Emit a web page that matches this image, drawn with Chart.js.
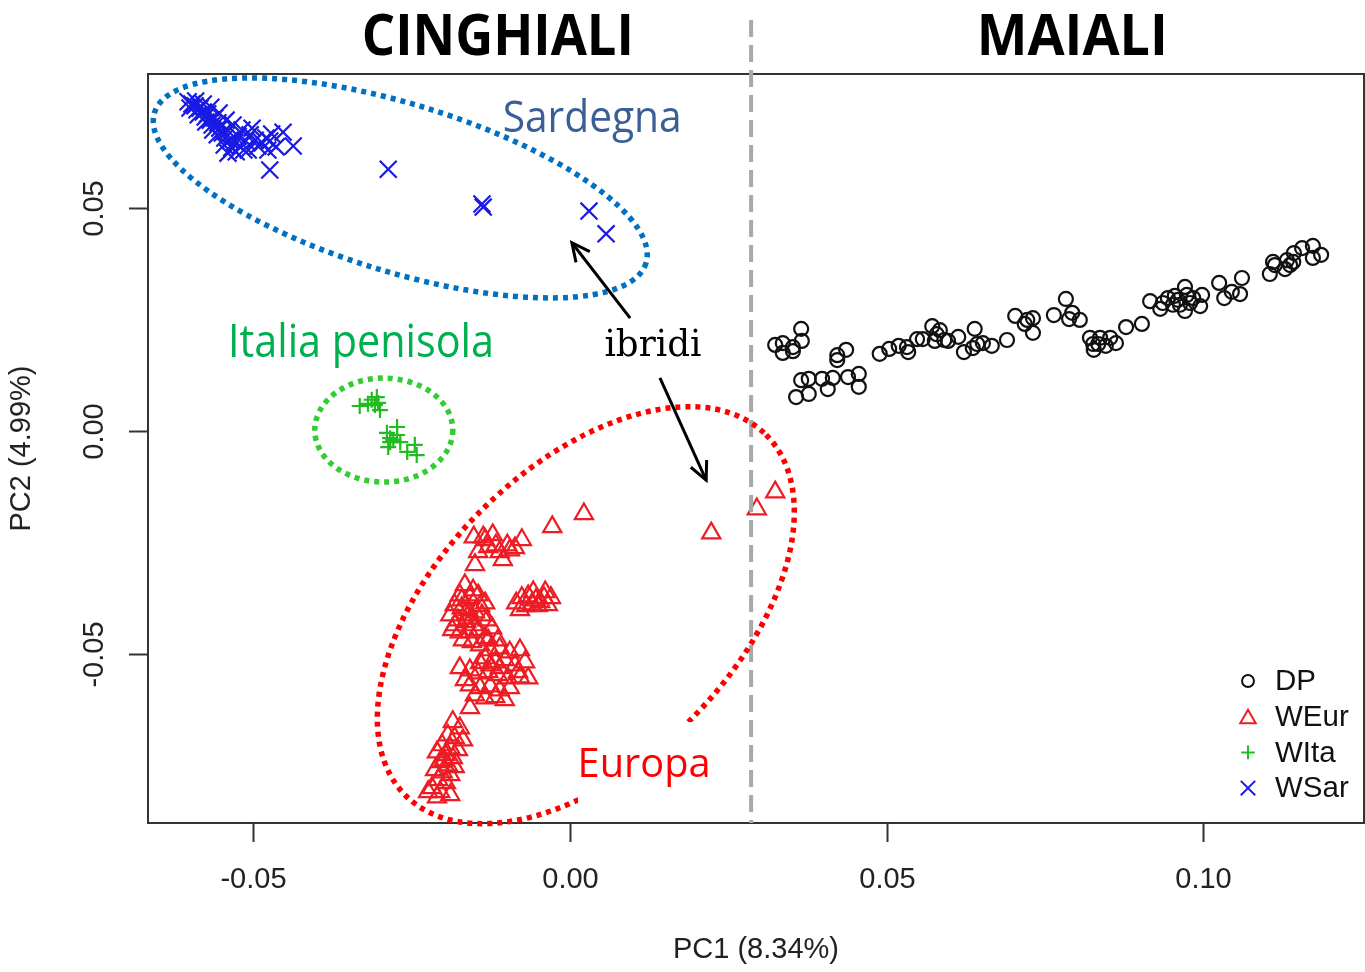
<!DOCTYPE html>
<html>
<head>
<meta charset="utf-8">
<script src="https://cdn.jsdelivr.net/npm/chart.js@4.4.0/dist/chart.umd.min.js"></script>
<style>
  html, body { margin: 0; padding: 0; background: #fff; overflow: hidden; }
  #wrap { position: relative; width: 1365px; height: 972px; }
  canvas { display: block; }
</style>
</head>
<body>
<div id="wrap"><canvas id="pcaChart" width="1365" height="972" style="width:1365px;height:972px"></canvas></div>
<script>
// PC1 / PC2 scores, one pair of arrays per group
const dpPC1 = [0.0324,0.0336,0.0336,0.0352,0.0352,0.0365,0.0366,0.0422,0.0436,0.0422,0.0365,0.0377,0.0398,0.0415,0.0407,0.0357,0.0377,0.0439,0.0456,0.0456,
  0.0489,0.0504,0.0519,0.0532,0.0534,0.0548,0.0557,0.0572,0.0579,0.0584,0.0576,0.0591,0.0597,0.0613,0.0622,0.0636,0.0639,0.0643,0.0652,0.0666,
  0.0690,0.0703,0.0718,0.0722,0.0731,0.0731,0.0764,0.0783,0.0793,0.0788,0.0805,0.0821,0.0837,0.0853,0.0827,0.0834,0.0846,0.0862,0.0826,0.0878,
  0.0903,0.0916,0.0932,0.0944,0.0952,0.0960,0.0971,0.0974,0.0971,0.0984,0.0995,0.0998,0.0936,0.0963,0.0979,0.0955,0.1025,0.1033,0.1045,0.1058,
  0.1061,0.1105,0.1110,0.1113,0.1129,0.1132,0.1142,0.1143,0.1156,0.1173,0.1173,0.1186,0.1137];
const dpPC2 = [0.0193,0.0197,0.0175,0.0188,0.0179,0.0229,0.0202,0.0170,0.0182,0.0159,0.0114,0.0117,0.0117,0.0119,0.0094,0.0076,0.0083,0.0121,0.0128,0.0099,
  0.0173,0.0184,0.0191,0.0188,0.0177,0.0206,0.0206,0.0235,0.0217,0.0226,0.0202,0.0204,0.0202,0.0211,0.0177,0.0186,0.0229,0.0195,0.0197,0.0191,
  0.0204,0.0258,0.0240,0.0249,0.0253,0.0220,0.0260,0.0296,0.0265,0.0251,0.0249,0.0209,0.0209,0.0209,0.0182,0.0195,0.0191,0.0197,0.0195,0.0233,
  0.0240,0.0291,0.0274,0.0298,0.0283,0.0294,0.0323,0.0305,0.0269,0.0298,0.0280,0.0305,0.0287,0.0283,0.0287,0.0303,0.0332,0.0298,0.0312,0.0307,
  0.0343,0.0352,0.0379,0.0372,0.0363,0.0383,0.0379,0.0399,0.0410,0.0415,0.0388,0.0395,0.0372];

const weurPC1 = [-0.0028,0.0022,0.0223,0.0295,0.0324,
  -0.0152,-0.0137,-0.0122,-0.0129,-0.0145,-0.0150,-0.0111,-0.0106,-0.0095,-0.0087,-0.0076,-0.0099,-0.0134,-0.0117,
  -0.0085,-0.0076,-0.0066,-0.0060,-0.0054,-0.0047,-0.0041,-0.0035,-0.0030,-0.0069,-0.0051,-0.0079,-0.0039,-0.0058,
  -0.0166,-0.0153,-0.0174,-0.0158,-0.0145,-0.0134,-0.0182,-0.0171,-0.0161,-0.0150,-0.0139,-0.0189,-0.0177,-0.0164,-0.0152,-0.0131,-0.0123,-0.0186,-0.0174,-0.0158,-0.0145,-0.0134,-0.0169,-0.0155,
  -0.0182,-0.0161,-0.0171,-0.0142,-0.0155,
  -0.0142,-0.0126,-0.0111,-0.0095,-0.0079,-0.0134,-0.0118,-0.0103,-0.0087,-0.0071,-0.0174,-0.0158,-0.0145,-0.0129,-0.0114,-0.0098,-0.0082,-0.0066,
  -0.0158,-0.0142,-0.0126,-0.0111,-0.0095,-0.0150,-0.0134,-0.0118,-0.0103,-0.0166,-0.0129,-0.0114,-0.0079,-0.0158,-0.0126,-0.0142,-0.0111,
  -0.0185,-0.0174,-0.0193,-0.0182,-0.0169,-0.0202,-0.0189,-0.0177,-0.0210,-0.0197,-0.0185,-0.0205,-0.0193,-0.0182,-0.0213,-0.0201,-0.0189,
  -0.0208,-0.0196,-0.0218,-0.0205,-0.0224,-0.0210,-0.0189,-0.0199];
const weurPC2 = [-0.0215,-0.0186,-0.0229,-0.0175,-0.0137,
  -0.0238,-0.0238,-0.0233,-0.0260,-0.0271,-0.0300,-0.0271,-0.0289,-0.0267,-0.0262,-0.0244,-0.0256,-0.0244,-0.0256,
  -0.0386,-0.0374,-0.0370,-0.0388,-0.0379,-0.0383,-0.0374,-0.0390,-0.0374,-0.0392,-0.0392,-0.0401,-0.0361,-0.0361,
  -0.0345,-0.0357,-0.0368,-0.0374,-0.0368,-0.0386,-0.0390,-0.0397,-0.0401,-0.0406,-0.0413,-0.0413,-0.0424,-0.0428,-0.0435,-0.0424,-0.0442,-0.0446,-0.0451,-0.0451,-0.0446,-0.0464,-0.0469,-0.0473,
  -0.0435,-0.0413,-0.0379,-0.0392,-0.0420,
  -0.0480,-0.0491,-0.0487,-0.0496,-0.0491,-0.0509,-0.0518,-0.0513,-0.0525,-0.0518,-0.0531,-0.0536,-0.0543,-0.0540,-0.0547,-0.0554,-0.0540,-0.0554,
  -0.0570,-0.0576,-0.0572,-0.0581,-0.0576,-0.0592,-0.0599,-0.0596,-0.0603,-0.0558,-0.0469,-0.0469,-0.0552,-0.0621,-0.0525,-0.0520,-0.0531,
  -0.0652,-0.0666,-0.0682,-0.0688,-0.0693,-0.0704,-0.0711,-0.0715,-0.0720,-0.0726,-0.0733,-0.0742,-0.0749,-0.0753,-0.0760,-0.0765,-0.0771,
  -0.0782,-0.0789,-0.0800,-0.0809,-0.0809,-0.0821,-0.0816,-0.0738];

const witaPC1 = [-0.0332,-0.0313,-0.0308,-0.0300,-0.0305,-0.0319,-0.0303,-0.0289,-0.0273,-0.0284,-0.0268,-0.0287,-0.0257,-0.0245,-0.0242,-0.0273,-0.0284,-0.0279];
const witaPC2 = [0.0056,0.0070,0.0058,0.0047,0.0076,0.0061,0.0063,-0.0004,0.0009,-0.0025,-0.0025,-0.0036,-0.0047,-0.0031,-0.0054,-0.0009,-0.0016,-0.0020];

const wsarPC1 = [-0.0603,-0.0597,-0.0592,-0.0600,-0.0589,-0.0584,-0.0579,-0.0587,-0.0576,-0.0572,-0.0568,-0.0575,-0.0565,-0.0561,-0.0556,-0.0564,-0.0553,-0.0549,-0.0557,-0.0545,
  -0.0540,-0.0537,-0.0546,-0.0534,-0.0529,-0.0524,-0.0521,-0.0515,-0.0512,-0.0505,-0.0502,-0.0497,-0.0493,-0.0508,-0.0527,-0.0540,-0.0518,-0.0532,-0.0543,-0.0554,
  -0.0567,-0.0579,-0.0591,-0.0486,-0.0480,-0.0474,-0.0471,-0.0464,-0.0477,-0.0453,-0.0437,-0.0474,-0.0287,-0.0139,-0.0137,0.0030,0.0057];
const wsarPC2 = [0.0738,0.0733,0.0729,0.0724,0.0720,0.0724,0.0715,0.0709,0.0704,0.0711,0.0697,0.0693,0.0686,0.0702,0.0691,0.0675,0.0679,0.0668,0.0664,0.0657,
  0.0673,0.0652,0.0641,0.0635,0.0648,0.0661,0.0639,0.0630,0.0650,0.0664,0.0679,0.0652,0.0639,0.0630,0.0626,0.0623,0.0675,0.0686,0.0697,0.0713,
  0.0726,0.0733,0.0740,0.0646,0.0657,0.0650,0.0666,0.0637,0.0630,0.0670,0.0639,0.0585,0.0587,0.0509,0.0502,0.0493,0.0442];

const groupNames = ['DP', 'WEur', 'WIta', 'WSar'];
const groupColors = ['#111111', '#EE1C24', '#22BB22', '#1A1AE6'];
const groupStyles = ['circle', 'triangle', 'cross', 'crossRot'];
const groupRadius = [7, 10.5, 8, 12];

const xTicks = [-0.05, 0.00, 0.05, 0.10];
const xTickLabels = ['-0.05', '0.00', '0.05', '0.10'];
const yTicks = [-0.05, 0.00, 0.05];
const yTickLabels = ['-0.05', '0.00', '0.05'];
const xTitle = 'PC1 (8.34%)';
const yTitle = 'PC2 (4.99%)';

// where the pig / boar split was drawn
const splitPC1 = 0.0286;

function pairs(xs, ys) {
  return xs.map((x, i) => ({ x: x, y: ys[i] }));
}

const groupData = [pairs(dpPC1, dpPC2), pairs(weurPC1, weurPC2), pairs(witaPC1, witaPC2), pairs(wsarPC1, wsarPC2)];

// ellipses and labels drawn over the plot (centre in data units, radii in px)
const ellipses = [
  { pc1: -0.0268, pc2: 0.0545, rx: 257, ry: 84, rot: 17, color: '#0070C0' },
  { pc1: -0.0294, pc2: 0.0002, rx: 69, ry: 52, rot: 0, color: '#33CC33' },
  { pc1: 0.0025, pc2: -0.0413, rx: 255, ry: 148, rot: -45, color: '#FF0000' }
];

const labels = [
  { text: 'CINGHIALI', pc1: -0.0114, pc2: 0.0843, w: 272, cap: 41, font: 'bold {s} "Open Sans"', ratio: 0.714, color: '#000' },
  { text: 'MAIALI', pc1: 0.0793, pc2: 0.0843, w: 191, cap: 41, font: 'bold {s} "Open Sans"', ratio: 0.714, color: '#000' },
  { text: 'Sardegna', pc1: 0.0035, pc2: 0.0670, w: 179, cap: 31, font: '{s} "Open Sans"', ratio: 0.714, color: '#3A5F96' },
  { text: 'Italia penisola', pc1: -0.0330, pc2: 0.0166, w: 266, cap: 32, font: '{s} "Open Sans"', ratio: 0.714, color: '#00B050' },
  { text: 'ibridi', pc1: 0.0131, pc2: 0.0168, w: 97, cap: 29, font: '{s} "DejaVu Serif"', ratio: 0.76, color: '#000' },
  { text: 'Europa', pc1: 0.0117, pc2: -0.0776, w: 133, cap: 29, font: '{s} "Open Sans"', ratio: 0.714, color: '#FF0000' }
];

const arrows = [
  { from: [0.0095, 0.0253], to: [0.0003, 0.0422] },
  { from: [0.0142, 0.0119], to: [0.0215, -0.0110] }
];

function fitText(ctx, t, x, y) {
  const size = t.cap / t.ratio;
  ctx.save();
  ctx.font = t.font.replace('{s}', size.toFixed(1) + 'px');
  const m = ctx.measureText(t.text).width;
  ctx.translate(x, y);
  ctx.scale(t.w / m, 1);
  ctx.textAlign = 'center';
  ctx.textBaseline = 'alphabetic';
  ctx.fillStyle = t.color;
  ctx.fillText(t.text, 0, 0);
  ctx.restore();
}

function symbol(ctx, style, x, y, r) {
  ctx.beginPath();
  if (style === 'circle') {
    ctx.arc(x, y, r, 0, Math.PI * 2);
  } else if (style === 'triangle') {
    ctx.moveTo(x, y - r);
    ctx.lineTo(x + r * 0.866, y + r / 2);
    ctx.lineTo(x - r * 0.866, y + r / 2);
    ctx.closePath();
  } else if (style === 'cross') {
    ctx.moveTo(x - r, y); ctx.lineTo(x + r, y);
    ctx.moveTo(x, y - r); ctx.lineTo(x, y + r);
  } else {
    const d = r * 0.707;
    ctx.moveTo(x - d, y - d); ctx.lineTo(x + d, y + d);
    ctx.moveTo(x - d, y + d); ctx.lineTo(x + d, y - d);
  }
  ctx.stroke();
}

const rPlot = {
  id: 'rPlot',
  beforeDatasetsDraw(chart) {
    const ctx = chart.ctx;
    ctx.save();
    ctx.fillStyle = '#fff';
    ctx.fillRect(0, 0, chart.width, chart.height);
    ctx.restore();
  },
  afterDatasetsDraw(chart) {
    const { ctx, chartArea: a, scales } = chart;
    const sx = scales.x, sy = scales.y;
    ctx.save();

    // box
    ctx.strokeStyle = '#333';
    ctx.lineWidth = 2;
    ctx.strokeRect(a.left, a.top, a.right - a.left, a.bottom - a.top);

    // ticks and tick labels
    ctx.fillStyle = '#222';
    ctx.font = '29px "Liberation Sans", Arial, sans-serif';
    ctx.textAlign = 'center';
    ctx.textBaseline = 'middle';
    xTicks.forEach((v, i) => {
      const px = Math.round(sx.getPixelForValue(v)) + 0.5;
      ctx.beginPath(); ctx.moveTo(px, a.bottom); ctx.lineTo(px, a.bottom + 19); ctx.stroke();
      ctx.fillText(xTickLabels[i], px, a.bottom + 57);
    });
    yTicks.forEach((v, i) => {
      const py = Math.round(sy.getPixelForValue(v)) + 0.5;
      ctx.beginPath(); ctx.moveTo(a.left, py); ctx.lineTo(a.left - 19, py); ctx.stroke();
      ctx.save();
      ctx.translate(a.left - 53, py);
      ctx.rotate(-Math.PI / 2);
      ctx.fillText(yTickLabels[i], 0, 0);
      ctx.restore();
    });
    ctx.fillText(xTitle, (a.left + a.right) / 2, a.bottom + 127);
    ctx.save();
    ctx.translate(a.left - 126, (a.top + a.bottom) / 2);
    ctx.rotate(-Math.PI / 2);
    ctx.fillText(yTitle, 0, 0);
    ctx.restore();

    // dashed split line
    const lx = sx.getPixelForValue(splitPC1);
    ctx.save();
    ctx.strokeStyle = '#A8A8A8';
    ctx.lineWidth = 4;
    ctx.setLineDash([17, 8]);
    ctx.beginPath(); ctx.moveTo(lx, 20); ctx.lineTo(lx, a.bottom); ctx.stroke();
    ctx.restore();

    // dotted ellipses
    ellipses.forEach(e => {
      ctx.save();
      ctx.strokeStyle = e.color;
      ctx.lineWidth = 5.5;
      ctx.setLineDash([5, 5]);
      ctx.beginPath();
      ctx.ellipse(sx.getPixelForValue(e.pc1), sy.getPixelForValue(e.pc2), e.rx, e.ry, e.rot * Math.PI / 180, 0, Math.PI * 2);
      ctx.stroke();
      ctx.restore();
    });

    // arrows
    ctx.save();
    ctx.strokeStyle = '#000';
    ctx.lineWidth = 3;
    arrows.forEach(ar => {
      const x0 = sx.getPixelForValue(ar.from[0]), y0 = sy.getPixelForValue(ar.from[1]);
      const x1 = sx.getPixelForValue(ar.to[0]), y1 = sy.getPixelForValue(ar.to[1]);
      const ang = Math.atan2(y1 - y0, x1 - x0);
      ctx.beginPath(); ctx.moveTo(x0, y0); ctx.lineTo(x1, y1); ctx.stroke();
      ctx.beginPath();
      ctx.moveTo(x1 - 20 * Math.cos(ang - 0.45), y1 - 20 * Math.sin(ang - 0.45));
      ctx.lineTo(x1, y1);
      ctx.lineTo(x1 - 20 * Math.cos(ang + 0.45), y1 - 20 * Math.sin(ang + 0.45));
      ctx.stroke();
    });
    ctx.restore();

    // labels (Europa sits on a white box that breaks the ellipse)
    labels.forEach(t => {
      const x = sx.getPixelForValue(t.pc1), y = sy.getPixelForValue(t.pc2);
      if (t.text === 'Europa') {
        ctx.fillStyle = '#fff';
        ctx.fillRect(x - 66, y - 55, 142, 88);
      }
      fitText(ctx, t, x, y);
    });

    // legend
    ctx.font = '29.5px "Liberation Sans", Arial, sans-serif';
    ctx.textAlign = 'left';
    ctx.textBaseline = 'middle';
    groupNames.forEach((n, i) => {
      const y = a.bottom - 142 + i * 35.7;
      ctx.strokeStyle = groupColors[i];
      ctx.lineWidth = 2;
      symbol(ctx, groupStyles[i], a.right - 116, y + (i === 1 ? 2 : 0), groupRadius[i] * 0.85);
      ctx.fillStyle = '#111';
      ctx.fillText(n, a.right - 89, y + 1);
    });

    ctx.restore();
  }
};

const ctx = document.getElementById('pcaChart').getContext('2d');
const pcaChart = new Chart(ctx, {
  type: 'scatter',
  data: {
    datasets: groupNames.map((n, i) => ({
      label: n,
      data: groupData[i],
      pointStyle: groupStyles[i],
      pointRadius: groupRadius[i],
      pointBorderWidth: 2.2,
      borderColor: groupColors[i],
      backgroundColor: 'rgba(0,0,0,0)'
    }))
  },
  options: {
    responsive: false,
    animation: false,
    devicePixelRatio: 1,
    layout: { autoPadding: false, padding: { left: 148, top: 74, right: 1, bottom: 149 } },
    plugins: { legend: { display: false }, tooltip: { enabled: false } },
    scales: {
      x: { type: 'linear', min: -0.06663, max: 0.12537, display: false },
      y: { type: 'linear', min: -0.08789, max: 0.08004, display: false }
    }
  },
  plugins: [rPlot]
});
</script>
</body>
</html>
